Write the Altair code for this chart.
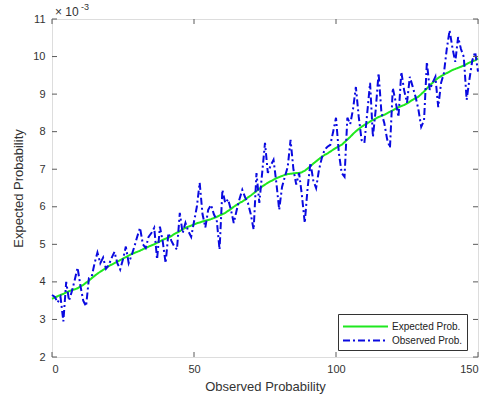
import altair as alt
import pandas as pd

x_vals = list(range(151))

expected = [3.55, 3.58, 3.62, 3.65, 3.68, 3.72, 3.75, 3.78, 3.80, 3.83,
            3.88, 3.92, 3.98, 4.03, 4.10, 4.16, 4.22, 4.27, 4.32, 4.37,
            4.42, 4.46, 4.50, 4.54, 4.58, 4.62, 4.66, 4.70, 4.74, 4.77,
            4.80, 4.83, 4.87, 4.90, 4.94, 4.97, 5.00, 5.04, 5.08, 5.12,
            5.15, 5.18, 5.22, 5.27, 5.31, 5.35, 5.40, 5.44, 5.47, 5.50,
            5.53, 5.56, 5.58, 5.61, 5.63, 5.65, 5.67, 5.70, 5.73, 5.77,
            5.80, 5.84, 5.89, 5.94, 6.00, 6.05, 6.10, 6.14, 6.19, 6.25,
            6.30, 6.36, 6.42, 6.48, 6.54, 6.59, 6.64, 6.68, 6.72, 6.76,
            6.79, 6.82, 6.85, 6.87, 6.88, 6.89, 6.90, 6.90, 6.92, 6.96,
            7.02, 7.08, 7.15, 7.21, 7.27, 7.33, 7.38, 7.42, 7.47, 7.52,
            7.57, 7.61, 7.65, 7.72, 7.79, 7.86, 7.94, 8.01, 8.07, 8.13,
            8.18, 8.22, 8.27, 8.31, 8.35, 8.39, 8.42, 8.45, 8.49, 8.53,
            8.57, 8.61, 8.65, 8.68, 8.71, 8.75, 8.80, 8.85, 8.89, 8.93,
            9.00, 9.07, 9.15, 9.23, 9.30, 9.37, 9.43, 9.48, 9.52, 9.56,
            9.60, 9.64, 9.67, 9.70, 9.73, 9.76, 9.80, 9.84, 9.87, 9.90,
            9.95]

observed = [3.65, 3.60, 3.45, 3.60, 2.95, 4.00, 3.50, 3.75, 4.05, 4.38,
            3.90, 3.50, 3.35, 4.10, 4.15, 4.50, 4.78, 4.50, 4.65, 4.35,
            4.45, 4.64, 4.80, 4.50, 4.33, 4.60, 4.94, 4.50, 4.70, 4.94,
            5.20, 5.44, 5.00, 4.90, 5.20, 5.30, 5.44, 4.60, 5.47, 5.07,
            4.50, 5.30, 5.10, 4.95, 4.86, 5.84, 5.30, 5.57, 5.35, 5.20,
            5.60, 6.00, 6.64, 5.80, 5.45, 5.92, 6.05, 5.80, 5.65, 4.86,
            6.45, 6.10, 6.20, 5.92, 5.57, 5.90, 6.20, 6.45, 6.25, 6.10,
            5.80, 5.39, 6.90, 6.10, 6.90, 7.70, 6.90, 7.10, 7.25, 6.64,
            5.92, 6.53, 6.80, 7.06, 7.78, 7.00, 6.59, 6.90, 6.30, 5.57,
            6.50, 7.17, 6.70, 6.50, 6.98, 7.30, 7.52, 7.60, 7.65, 8.00,
            8.37, 7.44, 6.90, 6.80, 8.37, 8.20, 8.60, 9.19, 8.40, 7.78,
            7.70, 8.50, 9.30, 7.86, 8.60, 9.56, 8.50, 8.23, 7.80, 7.57,
            9.16, 8.80, 8.39, 9.59, 9.10, 8.77, 9.46, 9.20, 8.93, 8.60,
            8.13, 8.30, 9.86, 9.11, 9.30, 9.46, 8.65, 9.30, 9.56, 10.20,
            10.70, 10.23, 9.86, 10.52, 10.20, 9.99, 8.85, 9.40, 9.90, 10.12,
            9.60]

series_names = ["Expected Prob.", "Observed Prob."]
series_colors = ["#1fe81f", "#0a0ae0"]
series_dash = [[1, 0], [7, 3, 2, 3]]
x_ticks = [0, 50, 100, 150]
y_ticks = [2, 3, 4, 5, 6, 7, 8, 9, 10, 11]

W, H = 426, 338
FONT = "Liberation Sans"
FRAME = "#5a5a5a"

df = pd.DataFrame({
    "x": x_vals + x_vals,
    "y": expected + observed,
    "series": [series_names[0]] * len(x_vals) + [series_names[1]] * len(x_vals),
    "order": list(range(len(x_vals))) * 2,
})

xs = alt.Scale(domain=[0, 150], nice=False)
ys = alt.Scale(domain=[2, 11], nice=False)

x_axis = alt.Axis(values=x_ticks, title="Observed Probability", ticks=False,
                  domain=False, grid=False, labelPadding=6, titlePadding=6,
                  labelFontSize=11, titleFontSize=13, labelFont=FONT,
                  titleFont=FONT, labelColor="#333333", titleColor="#333333",
                  titleFontWeight="normal", labelOverlap=False)
y_axis = alt.Axis(values=y_ticks, title="Expected Probability", ticks=False,
                  domain=False, grid=False, labelPadding=7, titlePadding=7,
                  labelFontSize=11, titleFontSize=13, labelFont=FONT,
                  titleFont=FONT, labelColor="#333333", titleColor="#333333",
                  titleFontWeight="normal", labelOverlap=False)

leg = dict(title=None, orient="none", legendX=286, legendY=295,
           fillColor="white", strokeColor="#333333", padding=4,
           labelFontSize=10, labelFont=FONT, labelColor="#222222",
           symbolType="M-3,0H3", symbolSize=225, symbolStrokeWidth=2,
           symbolOffset=15, labelOffset=18, rowPadding=0, labelLimit=200)

lines = alt.Chart(df).mark_line(strokeWidth=2).encode(
    x=alt.X("x:Q", scale=xs, axis=x_axis),
    y=alt.Y("y:Q", scale=ys, axis=y_axis),
    color=alt.Color("series:N",
                    scale=alt.Scale(domain=series_names, range=series_colors),
                    legend=alt.Legend(**leg)),
    strokeDash=alt.StrokeDash("series:N",
                              scale=alt.Scale(domain=series_names, range=series_dash),
                              legend=alt.Legend(**leg)),
    order="order:Q",
)

xt = pd.DataFrame({"t": x_ticks})
yt = pd.DataFrame({"t": y_ticks})
tick_len = 5
tx_bottom = alt.Chart(xt).mark_rule(color=FRAME, strokeWidth=1).encode(
    x=alt.X("t:Q", scale=xs, axis=x_axis), y=alt.value(H), y2=alt.value(H - tick_len))
tx_top = alt.Chart(xt).mark_rule(color=FRAME, strokeWidth=1).encode(
    x=alt.X("t:Q", scale=xs, axis=x_axis), y=alt.value(0), y2=alt.value(tick_len))
ty_left = alt.Chart(yt).mark_rule(color=FRAME, strokeWidth=1).encode(
    y=alt.Y("t:Q", scale=ys, axis=y_axis), x=alt.value(0), x2=alt.value(tick_len))
ty_right = alt.Chart(yt).mark_rule(color=FRAME, strokeWidth=1).encode(
    y=alt.Y("t:Q", scale=ys, axis=y_axis), x=alt.value(W), x2=alt.value(W - tick_len))

exp_base = alt.Chart(pd.DataFrame({"a": [0]})).mark_text(
    text="× 10", font=FONT, fontSize=12, color="#333333", align="left", baseline="alphabetic"
).encode(x=alt.value(3), y=alt.value(-3))
exp_sup = alt.Chart(pd.DataFrame({"a": [0]})).mark_text(
    text="-3", font=FONT, fontSize=9, color="#333333", align="left", baseline="alphabetic"
).encode(x=alt.value(29), y=alt.value(-9))

chart = alt.layer(lines, tx_bottom, tx_top, ty_left, ty_right, exp_base, exp_sup).properties(
    width=W, height=H,
    autosize=alt.AutoSizeParams(type="none"),
    padding={"left": 52, "top": 19, "right": 9, "bottom": 47},
).configure_view(stroke=FRAME, strokeWidth=1).configure(background="white")

chart.save("out.html", embed_options={"renderer": "svg", "actions": False})
